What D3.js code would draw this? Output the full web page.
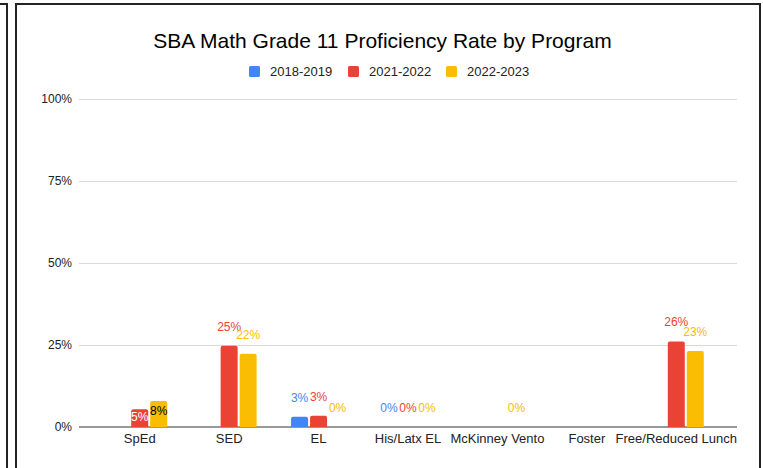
<!DOCTYPE html>
<html>
<head>
<meta charset="utf-8">
<script src="https://cdn.jsdelivr.net/npm/d3@7"></script>
<style>
  body { margin: 0; background: #fff; }
  svg { display: block; font-family: "Liberation Sans", Arial, sans-serif; }
</style>
</head>
<body>
<div id="main"></div>
<script>
!(function () {
  'use strict';

  // data
  const categories = ['SpEd', 'SED', 'EL', 'His/Latx EL', 'McKinney Vento', 'Foster', 'Free/Reduced Lunch'];
  const seriesNames = ['2018-2019', '2021-2022', '2022-2023'];
  const values2018 = [null, null, 3.1, 0, null, null, null];
  const values2021 = [5.4, 24.8, 3.4, 0, null, null, 26.1];
  const values2022 = [7.9, 22.3, 0, 0, 0, null, 23.2];
  const yTicks = [0, 25, 50, 75, 100];
  const insideLabelCategories = ['SpEd'];

  // config
  const colors = ['#4285f4', '#ea4335', '#fbbc04'];
  const insideColors = ['#ffffff', '#ffffff', '#000000'];
  const width = 763, height = 468;
  const plot = { left: 79, right: 737, top: 99, bottom: 427, bandStart: 95, bandEnd: 721 };

  const seriesValues = [values2018, values2021, values2022];
  const rows = [];
  categories.forEach(function (c, i) {
    seriesNames.forEach(function (s, j) {
      rows.push({ category: c, series: s, index: j, value: seriesValues[j][i] });
    });
  });

  const svg = d3.select('#main').append('svg')
    .attr('width', width)
    .attr('height', height);

  // outer frames (screenshot borders)
  const frame = svg.append('g').attr('fill', 'none').attr('stroke', '#222').attr('stroke-width', 2);
  frame.append('path').attr('d', 'M0,4H7V468');
  frame.append('path').attr('d', 'M16,468V4H760V468');

  const x = d3.scaleBand()
    .domain(categories)
    .range([plot.bandStart, plot.bandEnd])
    .paddingInner(0.385)
    .paddingOuter(0.1925);

  const xSub = d3.scaleBand()
    .domain(seriesNames)
    .range([0, x.bandwidth()])
    .paddingInner(2 / 19);

  const y = d3.scaleLinear()
    .domain([0, 100])
    .range([plot.bottom, plot.top]);

  // y axis + gridlines
  const yAxis = svg.append('g')
    .attr('transform', 'translate(' + plot.left + ',0)')
    .call(d3.axisLeft(y)
      .tickValues(yTicks)
      .tickSize(-(plot.right - plot.left))
      .tickPadding(7)
      .tickFormat(function (d) { return d + '%'; }));
  yAxis.select('.domain').remove();
  yAxis.selectAll('line').attr('stroke', '#dadada');
  yAxis.selectAll('text').attr('font-size', 12).attr('fill', '#222')
    .attr('font-family', '"Liberation Sans", Arial, sans-serif');

  // baseline
  svg.append('line')
    .attr('x1', plot.left).attr('x2', plot.right)
    .attr('y1', y(0)).attr('y2', y(0))
    .attr('stroke', '#999').attr('stroke-width', 2);

  // x axis labels
  const xAxis = svg.append('g')
    .attr('transform', 'translate(0,' + plot.bottom + ')')
    .call(d3.axisBottom(x).tickSize(0).tickPadding(7));
  xAxis.select('.domain').remove();
  xAxis.selectAll('text').attr('font-size', 13).attr('fill', '#222')
    .attr('font-family', '"Liberation Sans", Arial, sans-serif');

  // bars
  const groups = svg.append('g').attr('class', 'bars')
    .selectAll('g')
    .data(rows.filter(function (d) { return d.value !== null; }))
    .enter()
    .append('g')
    .attr('transform', function (d) {
      return 'translate(' + (x(d.category) + xSub(d.series)) + ',0)';
    });

  groups.filter(function (d) { return d.value > 0; })
    .append('path')
    .attr('fill', function (d) { return colors[d.index]; })
    .attr('d', function (d) {
      const w = xSub.bandwidth(), top = y(d.value), bot = y(0), r = 2;
      return 'M0,' + bot + 'V' + (top + r) + 'Q0,' + top + ' ' + r + ',' + top +
        'H' + (w - r) + 'Q' + w + ',' + top + ' ' + w + ',' + (top + r) + 'V' + bot + 'Z';
    });

  // value labels
  groups.append('text')
    .attr('x', xSub.bandwidth() / 2)
    .attr('text-anchor', 'middle')
    .attr('font-size', 12)
    .attr('y', function (d) {
      if (insideLabelCategories.indexOf(d.category) >= 0) {
        return Math.min(y(d.value) + 14, y(0) - 6);
      }
      return y(d.value) - 15;
    })
    .attr('fill', function (d) {
      return insideLabelCategories.indexOf(d.category) >= 0 ? insideColors[d.index] : colors[d.index];
    })
    .text(function (d) { return d3.format('.0%')(d.value / 100); });

  // title
  svg.append('text')
    .attr('x', 382.5).attr('y', 48)
    .attr('text-anchor', 'middle')
    .attr('font-size', 21)
    .attr('fill', '#000')
    .text('SBA Math Grade 11 Proficiency Rate by Program');

  // legend
  const legendX = [249, 348, 446];
  const legend = svg.append('g').selectAll('g')
    .data(seriesNames)
    .enter()
    .append('g')
    .attr('transform', function (d, i) { return 'translate(' + legendX[i] + ',66)'; });
  legend.append('rect')
    .attr('width', 11).attr('height', 11).attr('rx', 1.5)
    .attr('fill', function (d, i) { return colors[i]; });
  legend.append('text')
    .attr('x', 21).attr('y', 10)
    .attr('font-size', 13).attr('fill', '#222')
    .text(function (d) { return d; });
}());
</script>
</body>
</html>
